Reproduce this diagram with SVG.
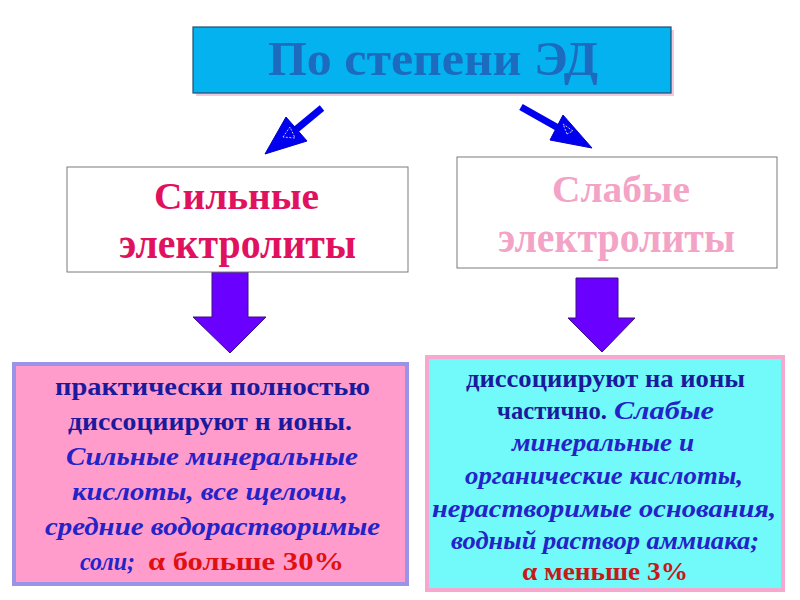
<svg xmlns="http://www.w3.org/2000/svg" width="800" height="600" viewBox="0 0 800 600">
<defs>
<style>
.t{font-family:"Liberation Serif","Times New Roman",serif;font-weight:bold}
.bb{fill:#0000EE;stroke:#0000CC;stroke-width:1}
.inner{fill:none;stroke:#C8C8FF;stroke-width:1;stroke-dasharray:2 1.5}
.down{fill:#6A00FF;stroke:#3A1080;stroke-width:1}
.n{fill:#1A1A9C}
.i{fill:#2323C8;font-style:italic}
.r{fill:#E01010}
.l{font-size:26px}
.s{font-size:25px}
</style>
</defs>
<rect width="800" height="600" fill="#FFFFFF"/>
<g id="top">
<rect x="196" y="30" width="478" height="66" fill="#F2C8DC"/>
<rect x="193" y="27" width="478" height="66" fill="#05B2F0" stroke="#1F4F6F" stroke-width="1.2"/>
<text class="t" x="268" y="75" font-size="48" fill="#1C6BBF" textLength="330" lengthAdjust="spacingAndGlyphs">По  степени ЭД</text>
</g>
<g id="connectors">
<g id="arrow-left">
<line x1="322" y1="108" x2="293" y2="132" stroke="#0000EE" stroke-width="7"/>
<polygon class="bb" points="265,154 286,117 307,141"/>
<polygon class="inner" points="283,137 290,127 295,138"/>
</g>
<g id="arrow-right">
<line x1="521" y1="107" x2="560" y2="129" stroke="#0000EE" stroke-width="7"/>
<polygon class="bb" points="592,148 563,115 550,140"/>
<polygon class="inner" points="567,134 563,124 573,131"/>
</g>
<polygon id="down-left" class="down" points="212,272 248,272 248,317 266,317 230,353 193,317 212,317"/>
<polygon id="down-right" class="down" points="576,278 618,278 618,318 635,318 602,352 568,318 576,318"/>
</g>
<g id="strong">
<rect x="67" y="167" width="341" height="105" fill="#FFFFFF" stroke="#7A7A7A" stroke-width="1"/>
<text class="t" x="154" y="209" font-size="38" fill="#E0115F" textLength="165" lengthAdjust="spacingAndGlyphs">Сильные</text>
<text class="t" x="119" y="258" font-size="45" fill="#E0115F" textLength="237" lengthAdjust="spacingAndGlyphs">электролиты</text>
</g>
<g id="weak">
<rect x="457" y="157" width="320" height="111" fill="#FFFFFF" stroke="#7A7A7A" stroke-width="1"/>
<text class="t" x="552" y="202" font-size="38" fill="#F3A3C6" textLength="138" lengthAdjust="spacingAndGlyphs">Слабые</text>
<text class="t" x="498" y="252" font-size="45" fill="#F3A3C6" textLength="237" lengthAdjust="spacingAndGlyphs">электролиты</text>
</g>
<g id="strong-desc">
<rect x="14" y="364" width="393" height="220" fill="#FF9CCC" stroke="#9A94E8" stroke-width="4"/>
<text class="t l n" x="55" y="395" textLength="315" lengthAdjust="spacingAndGlyphs">практически полностью</text>
<text class="t l n" x="68" y="430" textLength="284" lengthAdjust="spacingAndGlyphs">диссоциируют н ионы.</text>
<text class="t l i" x="66" y="465" textLength="292" lengthAdjust="spacingAndGlyphs">Сильные  минеральные</text>
<text class="t l i" x="72" y="500" textLength="276" lengthAdjust="spacingAndGlyphs">кислоты, все щелочи,</text>
<text class="t l i" x="45" y="535" textLength="335" lengthAdjust="spacingAndGlyphs">средние водорастворимые</text>
<text class="t l i" x="80" y="570" textLength="55" lengthAdjust="spacingAndGlyphs">соли;</text>
<text class="t l r" x="148" y="570" textLength="196" lengthAdjust="spacingAndGlyphs">α  больше 30%</text>
</g>
<g id="weak-desc">
<rect x="427" y="357" width="356" height="233" fill="#72F9F9" stroke="#F7A8CE" stroke-width="4"/>
<text class="t s n" x="466" y="387" textLength="279" lengthAdjust="spacingAndGlyphs">диссоциируют на ионы</text>
<text class="t s n" x="497" y="419" textLength="110" lengthAdjust="spacingAndGlyphs">частично.</text>
<text class="t s i" x="614" y="419" textLength="100" lengthAdjust="spacingAndGlyphs">Слабые</text>
<text class="t s i" x="512" y="451" textLength="182" lengthAdjust="spacingAndGlyphs">минеральные и</text>
<text class="t s i" x="465" y="484" textLength="278" lengthAdjust="spacingAndGlyphs">органические кислоты,</text>
<text class="t s i" x="432" y="517" textLength="344" lengthAdjust="spacingAndGlyphs">нерастворимые основания,</text>
<text class="t s i" x="451" y="549" textLength="308" lengthAdjust="spacingAndGlyphs">водный раствор аммиака;</text>
<text class="t s" x="522" y="580" fill="#C81818" textLength="166" lengthAdjust="spacingAndGlyphs">α  меньше 3%</text>
</g>
</svg>
